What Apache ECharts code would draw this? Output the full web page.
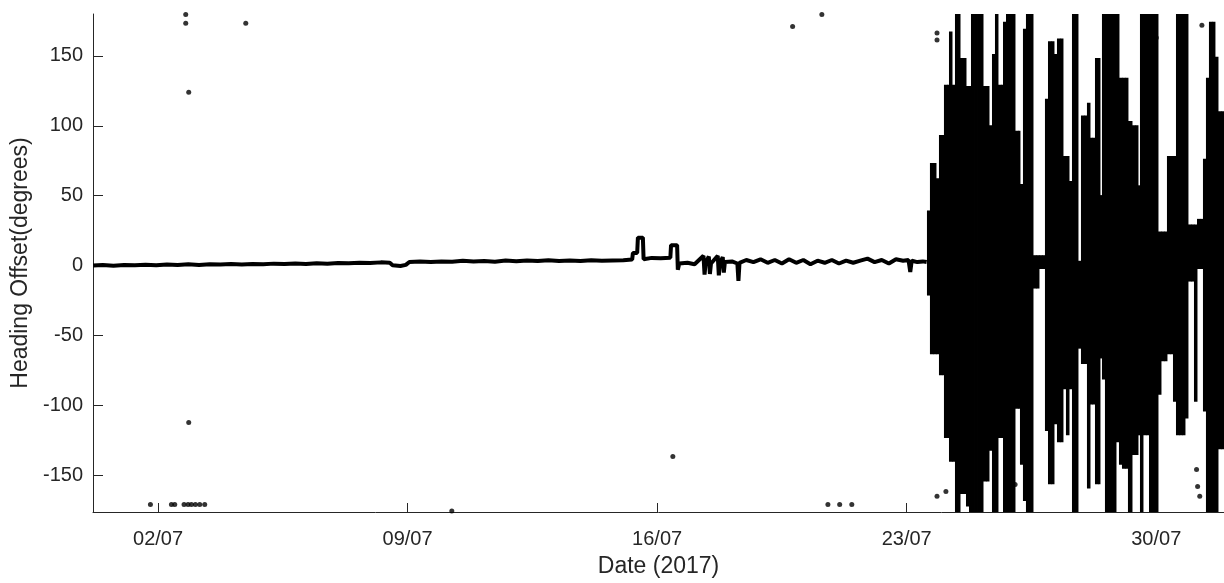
<!DOCTYPE html>
<html>
<head>
<meta charset="utf-8">
<script src="https://cdn.jsdelivr.net/npm/echarts@6/dist/echarts.min.js"></script>
<style>html,body{margin:0;padding:0;background:#fff}#c{width:1224px;height:583px}</style>
</head>
<body>
<div id="c"></div>
<script>
// x values are fractional day-of-July 2017 (2.0 = 02/07 00:00)
const tickDays = [2, 9, 16, 23, 30];
const tickLabels = ['02/07', '09/07', '16/07', '23/07', '30/07'];
const yTicks = [-150, -100, -50, 0, 50, 100, 150];

// Calm period: heading offset trace (day, degrees)
const calmDay = [0.18,0.45,0.75,1.05,1.35,1.65,1.95,2.25,2.55,2.85,3.15,3.45,3.75,4.05,4.35,4.65,4.95,5.25,5.55,5.85,6.15,6.45,6.75,7.05,7.35,7.65,7.95,8.25,8.50,8.58,8.80,8.95,9.05,9.35,9.65,9.95,10.25,10.55,10.85,11.15,11.45,11.75,12.05,12.35,12.65,12.95,13.25,13.55,13.85,14.15,14.45,14.75,15.05,15.30,15.32,15.44,15.46,15.60,15.62,15.85,16.10,16.37,16.39,16.56,16.58,16.62,16.85,17.05,17.30,17.33,17.36,17.45,17.48,17.51,17.70,17.73,17.76,17.84,17.87,17.90,18.10,18.25,18.28,18.31,18.50,18.70,18.90,19.10,19.30,19.50,19.70,19.90,20.10,20.30,20.50,20.70,20.90,21.10,21.30,21.50,21.70,21.90,22.10,22.30,22.50,22.70,22.90,23.05,23.10,23.14,23.30,23.45,23.56];
const calmDeg = [0.0,0.4,-0.2,0.5,0.2,0.6,0.3,0.8,0.4,0.9,0.5,1.0,0.7,1.1,0.8,1.2,0.9,1.4,1.1,1.5,1.2,1.7,1.4,1.8,1.6,2.0,1.8,2.3,2.0,0.2,-0.3,0.5,2.6,2.9,2.5,3.0,2.7,3.4,2.9,3.3,2.8,3.6,3.1,3.7,3.2,3.8,3.3,3.6,3.2,3.8,3.4,3.7,3.9,4.3,9.0,9.0,20.0,20.0,4.5,5.5,5.2,5.6,14.6,14.6,-3.0,1.5,2.0,1.0,7.0,-6.5,2.0,6.5,-6.0,1.5,7.0,-7.0,2.0,6.0,-5.0,2.5,3.0,1.5,-11.0,2.0,4.0,2.5,4.5,2.0,4.0,1.5,4.5,2.0,4.0,1.0,3.5,2.0,4.0,1.5,3.5,2.0,3.5,5.0,2.5,4.0,1.5,4.5,3.5,4.0,-4.5,3.5,2.5,3.0,2.5];

// Unstable period: per time slice, range of heading offset swept (day, low, high)
const wildDay = [23.568,23.652,23.736,23.821,23.905,23.989,24.045,24.130,24.186,24.270,24.354,24.410,24.495,24.579,24.663,24.747,24.803,24.888,24.972,25.056,25.140,25.224,25.308,25.392,25.476,25.560,25.645,25.701,25.785,25.869,25.953,26.037,26.121,26.177,26.261,26.345,26.430,26.486,26.542,26.626,26.710,26.794,26.878,26.963,27.047,27.131,27.215,27.299,27.383,27.467,27.552,27.636,27.720,27.804,27.888,27.972,28.056,28.141,28.197,28.281,28.365,28.421,28.477,28.561,28.646,28.730,28.814,28.870,28.954,29.038,29.122,29.206,29.319,29.403,29.487,29.543,29.627,29.711,29.796,29.880,29.964,30.048,30.132,30.216,30.300,30.385,30.469,30.553,30.637,30.721,30.805,30.889,30.973,31.058,31.142,31.226,31.310,31.394,31.478,31.562,31.646,31.731,31.815,31.899];
const wildHigh = [38,72,72,61,92,92,128,128,166,128,180,180,147,147,127,127,180,180,180,180,127,127,99,150,180,128,128,173,180,180,180,95,95,57,168,180,180,180,6,6,6,6,118,159,159,150,161,161,77,77,59,180,180,2,106,106,115,90,90,147,147,49,180,180,180,180,180,180,133,133,133,102,99,99,56,180,180,180,180,180,180,23,23,23,77,77,77,180,180,180,180,28,28,28,32,32,75,133,173,173,148,109,109,109];
const wildLow = [-20,-62,-62,-62,-77,-77,-122,-122,-139,-139,-176,-176,-162,-162,-171,-176,-176,-176,-176,-176,-153,-153,-131,-176,-176,-122,-122,-176,-176,-176,-176,-101,-101,-141,-167,-176,-176,-176,-15,-15,-1,-1,-117,-155,-155,-112,-125,-125,-87,-120,-87,-176,-176,-58,-69,-69,-158,-98,-98,-155,-155,-65,-80,-176,-176,-176,-176,-125,-141,-144,-144,-176,-134,-134,-120,-176,-120,-120,-176,-176,-176,-91,-67,-67,-62,-62,-96,-120,-120,-120,-108,-10,-10,-96,-1,-1,-103,-176,-176,-176,-176,-130,-130,-130];

// Isolated outlier samples (day, degrees)
const dotDay = [2.777,2.777,2.861,4.461,2.861,1.787,2.376,2.469,2.730,2.842,2.937,3.049,3.170,3.310,10.24,19.80,20.62,16.44,20.79,21.12,21.46,23.85,23.85,23.85,24.10,24.27,24.75,26.04,30.00,31.28,31.13,31.16,31.22];
const dotDeg = [179.7,173.3,124.0,173.3,-112.3,-170.9,-170.9,-170.9,-170.9,-170.9,-170.9,-170.9,-170.9,-170.9,-175.5,171.0,179.7,-136.6,-171.0,-171.0,-171.0,166.4,161.4,-165.0,-161.6,-120.9,-146.6,-156.6,163.0,171.9,-145.9,-158.0,-165.0];

const calmData = calmDay.map((d, i) => [d, calmDeg[i]]);
const nW = wildDay.length;
const wildData = wildDay.map((d, i) => [d, wildLow[i], wildHigh[i],
  i < nW - 1 ? wildDay[i + 1] : d + (d - wildDay[i - 1])]);
const dotData = dotDay.map((d, i) => [d, dotDeg[i]]);

const axisColor = '#262626';
const font = '"Liberation Sans", Arial, Helvetica, sans-serif';
const chart = echarts.init(document.getElementById('c'), null, {renderer: 'canvas'});
chart.setOption({
  animation: false,
  backgroundColor: '#ffffff',
  grid: {left: 93, right: 0, top: 14, bottom: 70, containLabel: false},
  xAxis: {
    type: 'value', min: 0.176, max: 31.9,
    name: 'Date (2017)', nameLocation: 'middle', nameGap: 43,
    nameTextStyle: {color: axisColor, fontSize: 23, fontFamily: font},
    axisLine: {show: true, onZero: false, lineStyle: {color: axisColor, width: 1}},
    axisTick: {show: true, inside: true, length: 9, customValues: tickDays, lineStyle: {color: axisColor}},
    axisLabel: {show: true, customValues: tickDays, margin: 17, color: axisColor, fontSize: 20, fontFamily: font,
      formatter: v => { const k = tickDays.indexOf(Math.round(v)); return k >= 0 ? tickLabels[k] : ''; }},
    splitLine: {show: false}
  },
  yAxis: {
    type: 'value', min: -176.3, max: 180,
    name: 'Heading Offset(degrees)', nameLocation: 'middle', nameGap: 58, nameRotate: 90,
    nameTextStyle: {color: axisColor, fontSize: 23, fontFamily: font},
    axisLine: {show: true, onZero: false, lineStyle: {color: axisColor, width: 1}},
    axisTick: {show: true, inside: true, length: 10, customValues: yTicks, lineStyle: {color: axisColor}},
    axisLabel: {show: true, customValues: yTicks, margin: 10, color: axisColor, fontSize: 20, fontFamily: font},
    splitLine: {show: false}
  },
  series: [
    {type: 'line', name: 'calm', data: calmData, symbol: 'none', clip: true,
     lineStyle: {color: '#000', width: 4}},
    {type: 'custom', name: 'unstable', data: wildData, clip: true,
     encode: {x: [0, 3], y: [1, 2]},
     renderItem: function (params, api) {
       const pTop = api.coord([api.value(0), api.value(2)]);
       const pBot = api.coord([api.value(3), api.value(1)]);
       return {type: 'rect',
         shape: {x: pTop[0], y: pTop[1] - 2, width: pBot[0] - pTop[0] + 0.5, height: pBot[1] - pTop[1] + 4},
         style: {fill: '#000'}};
     }},
    {type: 'scatter', name: 'outliers', data: dotData, symbolSize: 5, clip: true,
     itemStyle: {color: '#000'}}
  ]
});
</script>
</body>
</html>
